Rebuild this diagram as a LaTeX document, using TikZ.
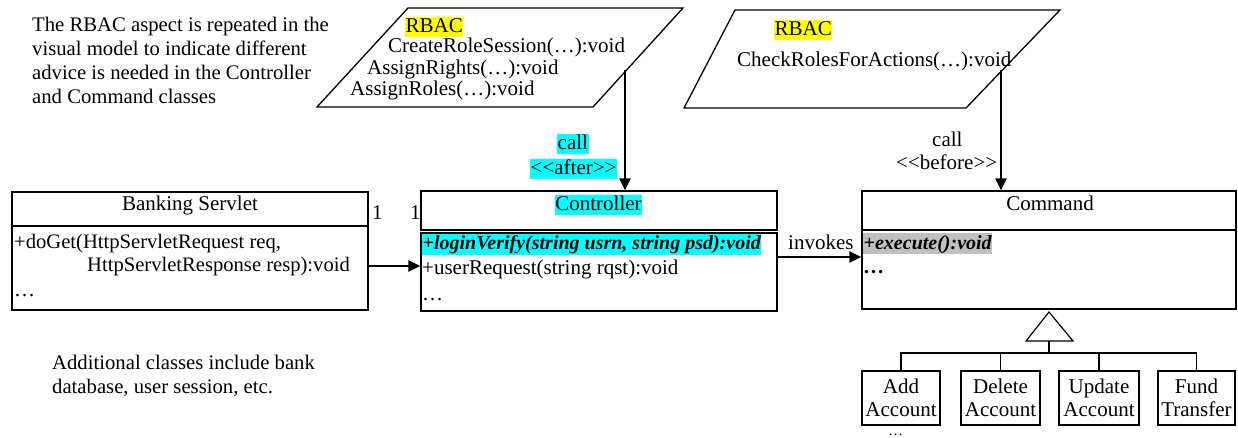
\documentclass[tikz,border=0pt]{standalone}
\usepackage{fontspec}
\setmainfont{Liberation Serif}
\usetikzlibrary{arrows.meta}
\definecolor{hlcyan}{RGB}{0,255,255}
\definecolor{hlyellow}{RGB}{255,255,0}
\definecolor{hlgray}{RGB}{192,192,192}
\newcommand{\dlt}{<\kern0pt<}
\newcommand{\dgt}{>\kern0pt>}
\tikzset{
  txt/.style={inner sep=0pt, anchor=base west, font=\fontsize{21}{24}\selectfont},
  ctxt/.style={txt, anchor=base},
  bi/.style={font=\fontsize{20}{24}\selectfont\bfseries\itshape},
  hl/.style={txt, fill=#1, inner xsep=0.5pt, text height=16pt, text depth=4.5pt},
  para/.style={inner sep=0pt, anchor=north west, align=left, font=\fontsize{20.7}{24}\selectfont},
  classbox/.style={draw, line width=1.4pt, inner sep=0pt},
  subbox/.style={draw, line width=1.3pt, inner sep=0pt, minimum height=54pt, align=center, font=\fontsize{21}{23}\selectfont},
  aspectshape/.style={draw, line width=1.3pt},
  callarrow/.style={line width=2.8pt, -{Triangle[length=12pt,width=11pt]}},
  assoc/.style={line width=2.6pt, -{Triangle[length=12pt,width=11pt]}},
  tree/.style={line width=1.2pt},
}
\begin{document}
\begin{tikzpicture}[x=1pt,y=-1pt]
\useasboundingbox (0,0) rectangle (1238,438);

% notes
\node[para] (note1) at (32,17) {The RBAC aspect is repeated in the\\visual model to indicate different\\advice is needed in the Controller\\and Command classes};
\node[para] (note2) at (52,355) {Additional classes include bank\\database, user session, etc.};

% aspect 1
\draw[aspectshape] (408,8) -- (683,8) -- (593,107) -- (317,107) -- cycle;
\node[hl=hlyellow] (rbac1) at (405,33) {RBAC};
\node[txt] (m11) at (388,53) {CreateRoleSession(…):void};
\node[txt] (m12) at (367,75) {AssignRights(…):void};
\node[txt] (m13) at (350,96) {AssignRoles(…):void};
\coordinate (a1) at (625,70);

% aspect 2
\draw[aspectshape] (735,10) -- (1060,10) -- (966,108) -- (684,108) -- cycle;
\node[hl=hlyellow] (rbac2) at (774,36) {RBAC};
\node[txt] (m21) at (737,67) {CheckRolesForActions(…):void};
\coordinate (a2) at (1001,70);

% Banking Servlet
\node[classbox, minimum width=356pt, minimum height=34pt] (servH) at (190,209) {};
\node[classbox, minimum width=356pt, minimum height=84pt] (servB) at (190,268) {};
\node[ctxt] (servT) at (190,211) {Banking Servlet};
\node[txt, font=\fontsize{20.6}{24}\selectfont] (servM1) at (14,248) {+doGet(HttpServletRequest req,};
\node[txt, font=\fontsize{20.6}{24}\selectfont] (servM2) at (87,271) {HttpServletResponse resp):void};
\node[txt] (servM3) at (14,296) {\dots};

% Controller
\node[classbox, minimum width=356pt, minimum height=39pt] (ctrlH) at (599,210.5) {};
\node[classbox, minimum width=356pt, minimum height=78pt] (ctrlB) at (599,272) {};
\node[hl=hlcyan, anchor=base] (ctrlT) at (598.5,211) {Controller};
\node[hl=hlcyan, bi] (ctrlM1) at (422,250) {+loginVerify(string usrn, string psd):void};
\node[txt] (ctrlM2) at (422,274) {+userRequest(string rqst):void};
\node[txt] (ctrlM3) at (422,300) {\dots};

% Command
\node[classbox, minimum width=374pt, minimum height=39pt] (cmdH) at (1049,210.5) {};
\node[classbox, minimum width=374pt, minimum height=79pt] (cmdB) at (1049,269.5) {};
\node[ctxt] (cmdT) at (1050,211) {Command};
\node[hl=hlgray, bi] (cmdM1) at (863,249) {+execute():void};
\node[txt, font=\fontsize{21}{24}\selectfont\bfseries] (cmdM2) at (863,273) {…};

% multiplicities and labels
\node[txt] (mul1) at (372,220) {1};
\node[txt] (mul2) at (410,220) {1};
\node[txt] (inv) at (788,250) {invokes};
\node[hl=hlcyan] (call1) at (557,150) {call};
\node[hl=hlcyan] (after) at (530,175) {\dlt after\dgt};
\node[txt] (call2) at (932,147) {call};
\node[txt] (before) at (896,170) {\dlt before\dgt};

% connectors
\draw[callarrow] (a1) -- (a1 |- ctrlH.north);
\draw[callarrow] (a2) -- (a2 |- cmdH.north);
\draw[assoc] ([yshift=2pt]servB.east) -- ([yshift=2pt]servB.east -| ctrlB.west);
\draw[assoc] ([yshift=15pt]ctrlB.east) -- ([yshift=15pt]ctrlB.east -| cmdB.west);

% generalization
\coordinate (apex) at (1049,312);
\coordinate (gen) at (1049,341);
\coordinate (bus) at (1049,353);
\draw[tree, fill=white] (apex) -- (1073,341) -- (1026,341) -- cycle;

\node[subbox, minimum width=78pt] (addA) at (901,398) {Add\\Account};
\node[subbox, minimum width=79pt] (delA) at (1000.5,398) {Delete\\Account};
\node[subbox, minimum width=80pt] (updA) at (1099,398) {Update\\Account};
\node[subbox, minimum width=77pt] (fundT) at (1196.5,398) {Fund\\Transfer};
\node[txt, font=\fontsize{15}{16}\selectfont, text height=2pt, text depth=0pt] (more) at (888,435) {\dots};

\draw[tree] (gen) -- (bus);
\draw[tree] (addA.north) |- (bus);
\draw[tree] (fundT.north) |- (bus);
\draw[tree] (delA.north) -- (delA.north |- bus);
\draw[tree] (updA.north) -- (updA.north |- bus);
\end{tikzpicture}
\end{document}
